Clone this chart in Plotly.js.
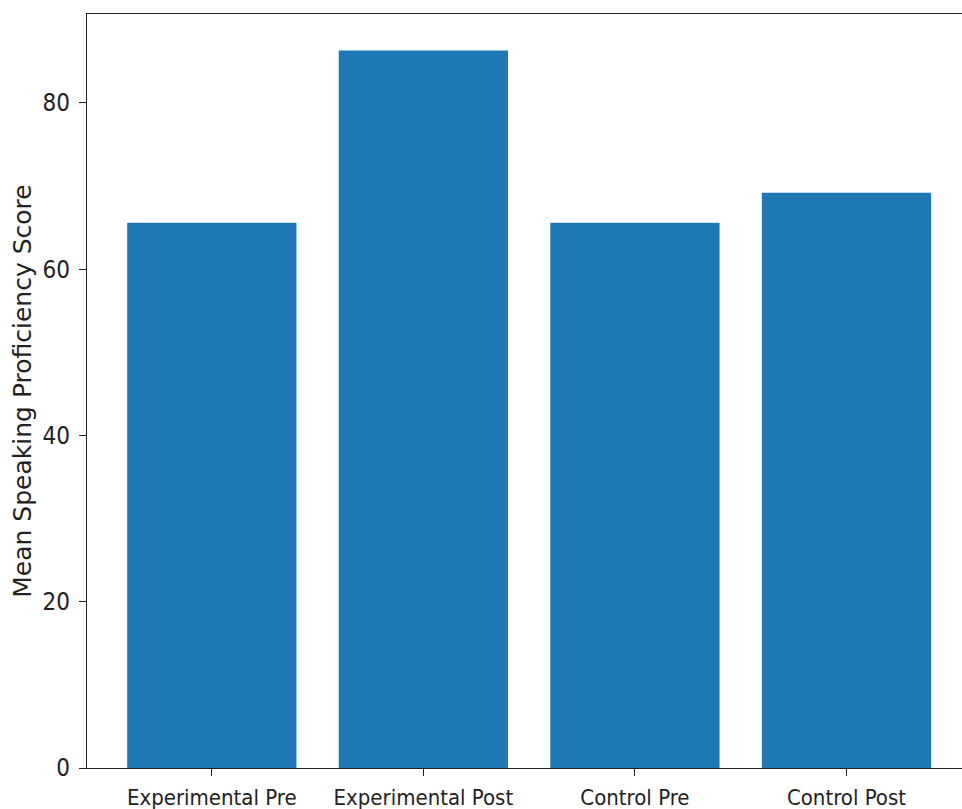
<!DOCTYPE html>
<html>
<head>
<meta charset="utf-8">
<script src="https://cdn.plot.ly/plotly-3.0.1.min.js"></script>
<style>html,body{margin:0;padding:0;background:#fff;overflow:hidden}</style>
</head>
<body>
<div id="chart" style="width:962px;height:809px"></div>
<script>
const categories = ["Experimental Pre", "Experimental Post", "Control Pre", "Control Post"];
const meanScores = [65.6, 86.3, 65.6, 69.2];
const yTickValues = [0, 20, 40, 60, 80];
const yTickLabels = ["0", "20", "40", "60", "80"];
const yAxisTitle = "Mean Speaking Proficiency Score";

const xTickFont = {family: "DejaVu Sans Condensed, DejaVu Sans, sans-serif", size: 22, color: "#222"};
const yTickFont = {family: "DejaVu Sans Condensed, DejaVu Sans, sans-serif", size: 24, color: "#222"};

Plotly.newPlot("chart", [{
  type: "bar",
  x: categories,
  y: meanScores,
  width: 0.8,
  marker: {color: "#1f77b4", line: {width: 0}},
  hoverinfo: "x+y"
}], {
  width: 962,
  height: 809,
  margin: {l: 87, r: 0, t: 14, b: 41, pad: 0},
  paper_bgcolor: "#fff",
  plot_bgcolor: "#fff",
  showlegend: false,
  bargap: 0.2,
  xaxis: {
    type: "category",
    range: [-0.59, 3.546],
    showline: true, linecolor: "#222", linewidth: 1.3, mirror: true,
    showgrid: false, zeroline: false,
    ticks: "outside", ticklen: 7, tickwidth: 1.2, tickcolor: "#222",
    tickfont: xTickFont,
    ticklabelstandoff: 2,
    automargin: false
  },
  yaxis: {
    range: [0, 90.7],
    tickvals: yTickValues,
    ticktext: yTickLabels,
    showline: true, linecolor: "#222", linewidth: 1.3, mirror: false,
    showgrid: false, zeroline: false,
    ticks: "outside", ticklen: 7, tickwidth: 1.2, tickcolor: "#222",
    tickfont: yTickFont,
    ticklabelstandoff: 4,
    automargin: false,
    title: {text: yAxisTitle, font: {family: "DejaVu Sans, sans-serif", size: 25, color: "#222"}, standoff: 3}
  }
}, {displayModeBar: false});
</script>
</body>
</html>
